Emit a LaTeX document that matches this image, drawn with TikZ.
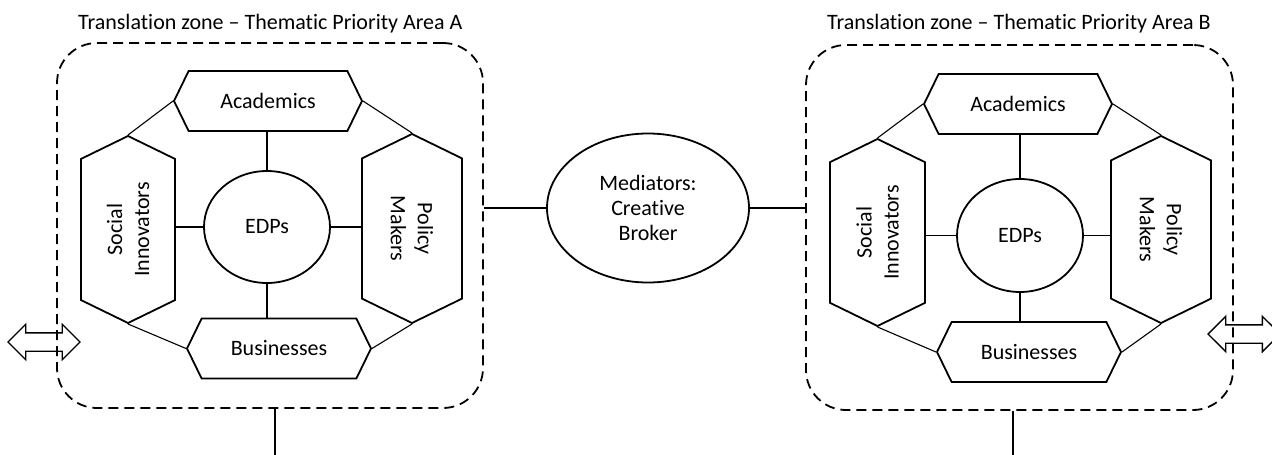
\documentclass[tikz,border=0pt]{standalone}
\usepackage{fontspec}
\setmainfont{Carlito}[Ligatures={NoCommon}]
\usetikzlibrary{shapes.geometric,shapes.symbols,shapes.arrows}
\begin{document}
\begin{tikzpicture}[x=1pt,y=-1pt,
  hexh/.style={draw,line width=1.8pt,signal,signal to=west and east,signal pointer angle=128,
    inner sep=0pt,font=\fontsize{22}{27}\selectfont,align=center},
  hexv/.style={hexh},
  oval/.style={draw,line width=1.8pt,ellipse,inner sep=0pt,font=\fontsize{22}{25}\selectfont,align=center},
  zone/.style={draw,dashed,dash pattern=on 10pt off 6pt,line width=1.8pt,rounded corners=40pt,inner sep=0pt},
  thin/.style={line width=1.1pt},
  link/.style={line width=1.8pt},
  dbl/.style={draw,line width=1.4pt,double arrow,double arrow head extend=8.5pt,double arrow tip angle=90,
    inner xsep=0pt,inner ysep=8.5pt,minimum width=34pt,minimum height=72pt},
  title/.style={font=\fontsize{22}{24}\selectfont,anchor=base west,inner sep=0pt}
]
\useasboundingbox (0,0) rectangle (1272,455);
% ---------- Zone A ----------
\node[title] (tA) at (78,29) {Translation zone – Thematic Priority Area A};
\node[zone,minimum width=426pt,minimum height=365pt] (zoneA) at (270,225.5) {};
\node[hexh,minimum width=188pt,minimum height=60pt] (acA) at (268,101) {Academics};
\node[hexv,rotate=90,minimum width=187pt,minimum height=94pt] (siA) at (128,229.5) {Social\\Innovators};
\node[hexv,rotate=-90,minimum width=189pt,minimum height=100pt] (pmA) at (412,228.5) {Policy\\Makers};
\node[hexh,minimum width=184pt,minimum height=60pt] (buA) at (279,348.5) {Businesses};
\node[oval,minimum width=126pt,minimum height=112pt] (edA) at (267,227) {EDPs};
\draw[thin] (edA.north) -- (edA.north |- acA.south);
\draw[thin] (edA.south) -- (edA.south |- buA.north);
\draw[thin] (edA.west) -- (edA.west -| siA.south);
\draw[thin] (edA.east) -- (edA.east -| pmA.south);
\draw[thin] (acA.west) -- (siA.east);
\draw[thin] (acA.east) -- (pmA.west);
\draw[thin] (siA.west) -- (buA.west);
\draw[thin] (pmA.east) -- (buA.east);
% ---------- Zone B ----------
\node[title] (tB) at (827,29) {Translation zone – Thematic Priority Area B};
\node[zone,minimum width=427pt,minimum height=365pt] (zoneB) at (1019.5,227.5) {};
\node[hexh,minimum width=188pt,minimum height=60pt] (acB) at (1018,104) {Academics};
\node[hexv,rotate=90,minimum width=187pt,minimum height=95pt] (siB) at (877.5,232.5) {Social\\Innovators};
\node[hexv,rotate=-90,minimum width=187pt,minimum height=100pt] (pmB) at (1161,229.5) {Policy\\Makers};
\node[hexh,minimum width=184pt,minimum height=60pt] (buB) at (1029,352) {Businesses};
\node[oval,minimum width=126pt,minimum height=113pt] (edB) at (1020,235.5) {EDPs};
\draw[thin] (edB.north) -- (edB.north |- acB.south);
\draw[thin] (edB.south) -- (edB.south |- buB.north);
\draw[thin] (edB.west) -- (edB.west -| siB.south);
\draw[thin] (edB.east) -- (edB.east -| pmB.south);
\draw[thin] (acB.west) -- (siB.east);
\draw[thin] (acB.east) -- (pmB.west);
\draw[thin] (siB.west) -- (buB.west);
\draw[thin] (pmB.east) -- (buB.east);
% ---------- Mediator ----------
\node[oval,minimum width=202pt,minimum height=149pt] (med) at (648,208) {Mediators:\\Creative\\Broker};
\draw[link] (med.west -| zoneA.east) -- (med.west);
\draw[link] (med.east) -- (med.east -| zoneB.west);
% ---------- bottom stubs ----------
\coordinate (botA) at (275,455);
\coordinate (botB) at (1013,455);
\draw[link] (botA |- zoneA.south) -- (botA);
\draw[link] (botB |- zoneB.south) -- (botB);
% ---------- double arrows ----------
\node[dbl] (arrL) at (44,342) {};
\node[dbl] (arrR) at (1244,334) {};
\end{tikzpicture}
\end{document}
